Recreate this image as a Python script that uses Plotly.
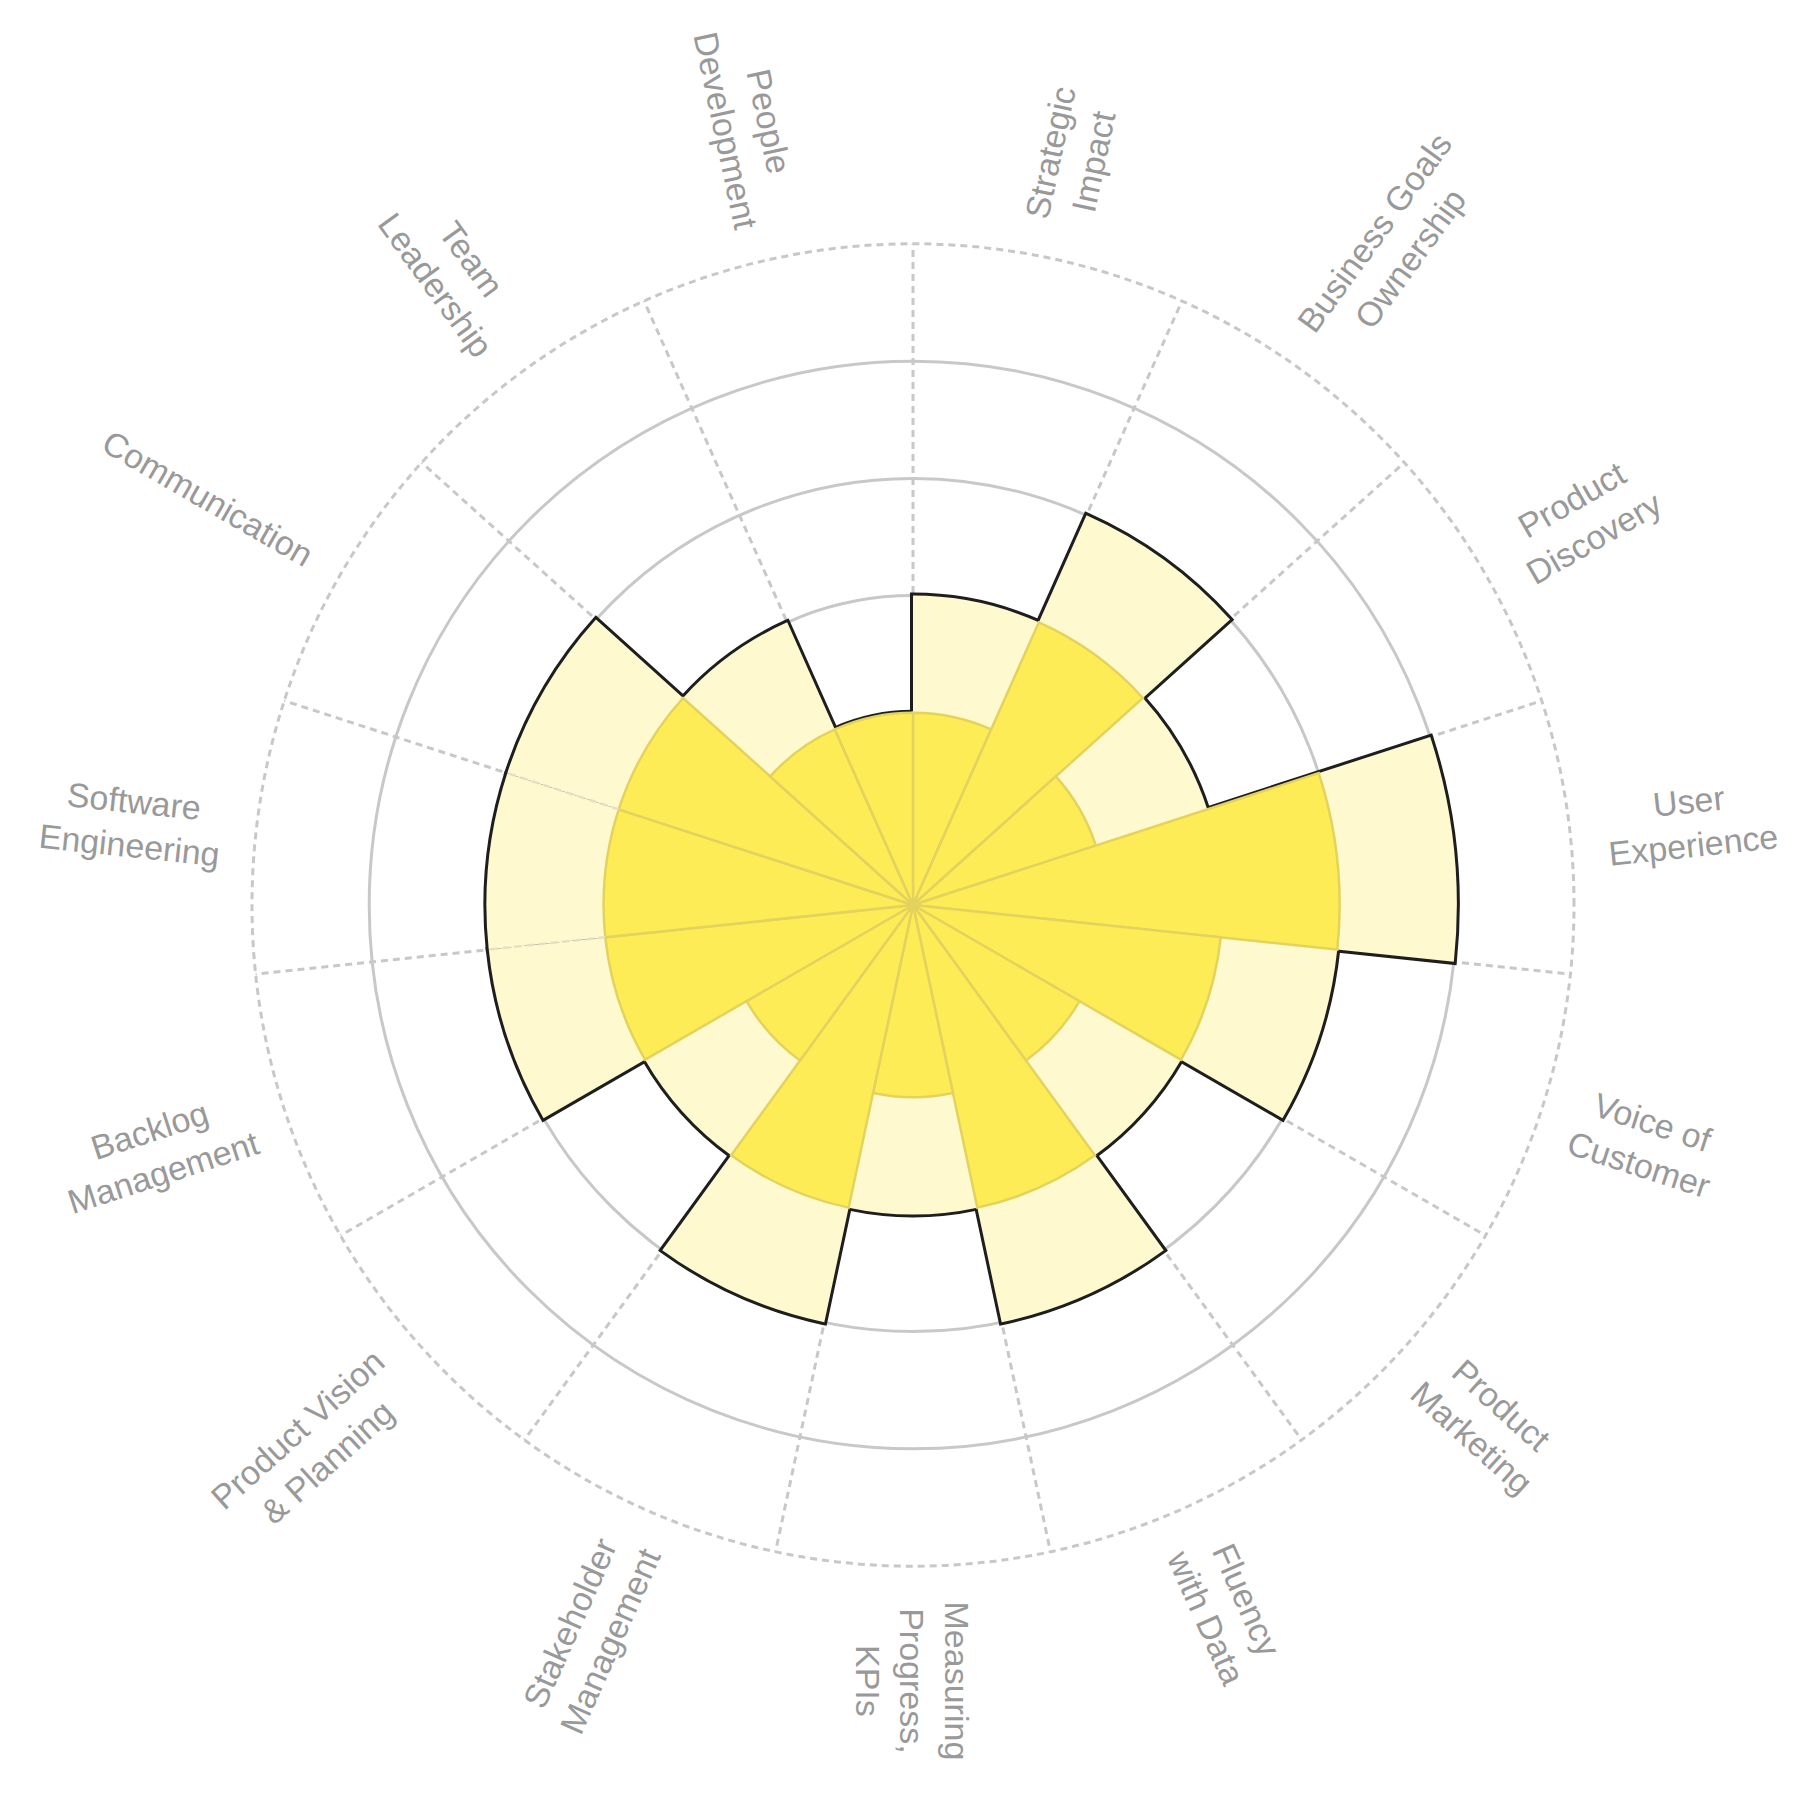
import math
import plotly.graph_objects as go

# Skill wheel data: level reached (outer, light) and confirmed level (inner, saturated)
skills = [
    "Strategic<br>Impact", "Business Goals<br>Ownership", "Product<br>Discovery",
    "User<br>Experience", "Voice of<br>Customer", "Product<br>Marketing",
    "Fluency<br>with Data", "Measuring<br>Progress,<br>KPIs", "Stakeholder<br>Management",
    "Product Vision<br>& Planning", "Backlog<br>Management", "Software<br>Engineering",
    "Communication", "Team<br>Leadership", "People<br>Development",
]
outer_level = [2, 3, 2, 4, 3, 2, 3, 2, 3, 2, 3, 3, 3, 2, 1]
inner_level = [1, 2, 1, 3, 2, 1, 2, 1, 2, 1, 2, 2, 2, 1, 1]
grid_levels = [1, 2, 3, 4]
max_level = 5

# Styling
LIGHT = "#FFF9CF"
DARK = "#FEEC57"
DARK_LINE = "#E3D35D"
OUTLINE = "#1E1E1E"
GRID = "#C8C8C8"
FAINT = "#E4E0C4"
TEXT = "#999999"
FONT = "Liberation Sans, Arial, sans-serif"
FONT_SIZE = 34
DASH = "7px,5px"

W = H = 1800
CX, CY, R_OUT = 905, 897, 661          # polar centre / radius in page pixels
R_MIN = -0.64                          # radial value at the centre


def domain(radius):
    return dict(x=[(CX - radius) / W, (CX + radius) / W],
                y=[(H - CY - radius) / H, (H - CY + radius) / H])


# polar2 only carries the dashed outer ring; its range goes a bit further so
# the ring is not clipped away as an axis end
ring_max = max_level + 0.1
R_RING = R_OUT * (ring_max - R_MIN) / (max_level - R_MIN)

n = len(skills)
step = 360 / n
centers = [step * (i + 0.5) for i in range(n)]
edges = [step * i for i in range(n)]

fig = go.Figure()

# black outline of the light shape (inner half gets covered by the next trace)
fig.add_trace(go.Barpolar(
    r=[v - R_MIN for v in outer_level], base=R_MIN, theta=centers, width=step,
    marker=dict(color=LIGHT, line=dict(color=OUTLINE, width=6)),
    hoverinfo="skip", showlegend=False,
))
fig.add_trace(go.Barpolar(
    r=[v - R_MIN for v in outer_level], base=R_MIN, theta=centers, width=step,
    marker=dict(color=LIGHT, line=dict(color=LIGHT, width=0)),
    hoverinfo="skip", showlegend=False,
))
fig.add_trace(go.Barpolar(
    r=[v - R_MIN for v in inner_level], base=R_MIN, theta=centers, width=step,
    marker=dict(color=DARK, line=dict(color=DARK_LINE, width=2.5)),
    hoverinfo="skip", showlegend=False,
))

# faint spokes showing through the light area only
sp_r, sp_t = [], []
for i in range(n):
    lo = max(inner_level[i - 1], inner_level[i])
    hi = min(outer_level[i - 1], outer_level[i])
    if hi > lo:
        sp_r += [lo, hi, None]
        sp_t += [edges[i], edges[i], None]
fig.add_trace(go.Scatterpolar(
    r=sp_r, theta=sp_t, mode="lines",
    line=dict(color=FAINT, width=2.5, dash=DASH),
    hoverinfo="skip", showlegend=False,
))

fig.add_trace(go.Scatterpolar(
    r=[max_level], theta=[0], mode="markers", marker=dict(opacity=0),
    subplot="polar2", hoverinfo="skip", showlegend=False,
))


def text_width(s, size):
    w = 0
    for ch in s:
        if ch in "ijlI.,'":
            w += 0.23
        elif ch in "tfr ":
            w += 0.3
        elif ch in "mwMW":
            w += 0.85
        elif ch.isupper() or ch == "&":
            w += 0.68
        else:
            w += 0.54
    return w * size


annotations = []
for lab, th in zip(skills, centers):
    longest = max(text_width(part, FONT_SIZE) for part in lab.split("<br>"))
    rc = 697 + longest / 2
    a = math.radians(th)
    angle = th - 90 if th <= 180 else th - 270
    annotations.append(dict(
        text=lab, x=(CX + rc * math.sin(a)) / W, y=(H - CY + rc * math.cos(a)) / H,
        xref="paper", yref="paper", xanchor="center", yanchor="middle",
        showarrow=False, textangle=angle, align="center",
        font=dict(family=FONT, size=FONT_SIZE, color=TEXT),
    ))

axis_off = dict(showticklabels=False, ticks="", showline=False, layer="below traces")

fig.update_layout(
    width=W, height=H,
    margin=dict(l=0, r=0, t=0, b=0),
    paper_bgcolor="white",
    showlegend=False,
    annotations=annotations,
    polar=dict(
        domain=domain(R_OUT),
        bgcolor="white",
        barmode="overlay",
        bargap=0,
        radialaxis=dict(range=[R_MIN, max_level], tickvals=grid_levels,
                        gridcolor=GRID, gridwidth=2.5, **axis_off),
        angularaxis=dict(rotation=90, direction="clockwise", tickvals=edges,
                         gridcolor=GRID, gridwidth=2.5, griddash=DASH, **axis_off),
    ),
    polar2=dict(
        domain=domain(R_RING),
        bgcolor="rgba(0,0,0,0)",
        radialaxis=dict(range=[R_MIN, ring_max], tickvals=[max_level],
                        gridcolor=GRID, gridwidth=2.5, griddash=DASH, **axis_off),
        angularaxis=dict(rotation=90, direction="clockwise", showgrid=False, **axis_off),
    ),
)

fig.write_html("out.html")
